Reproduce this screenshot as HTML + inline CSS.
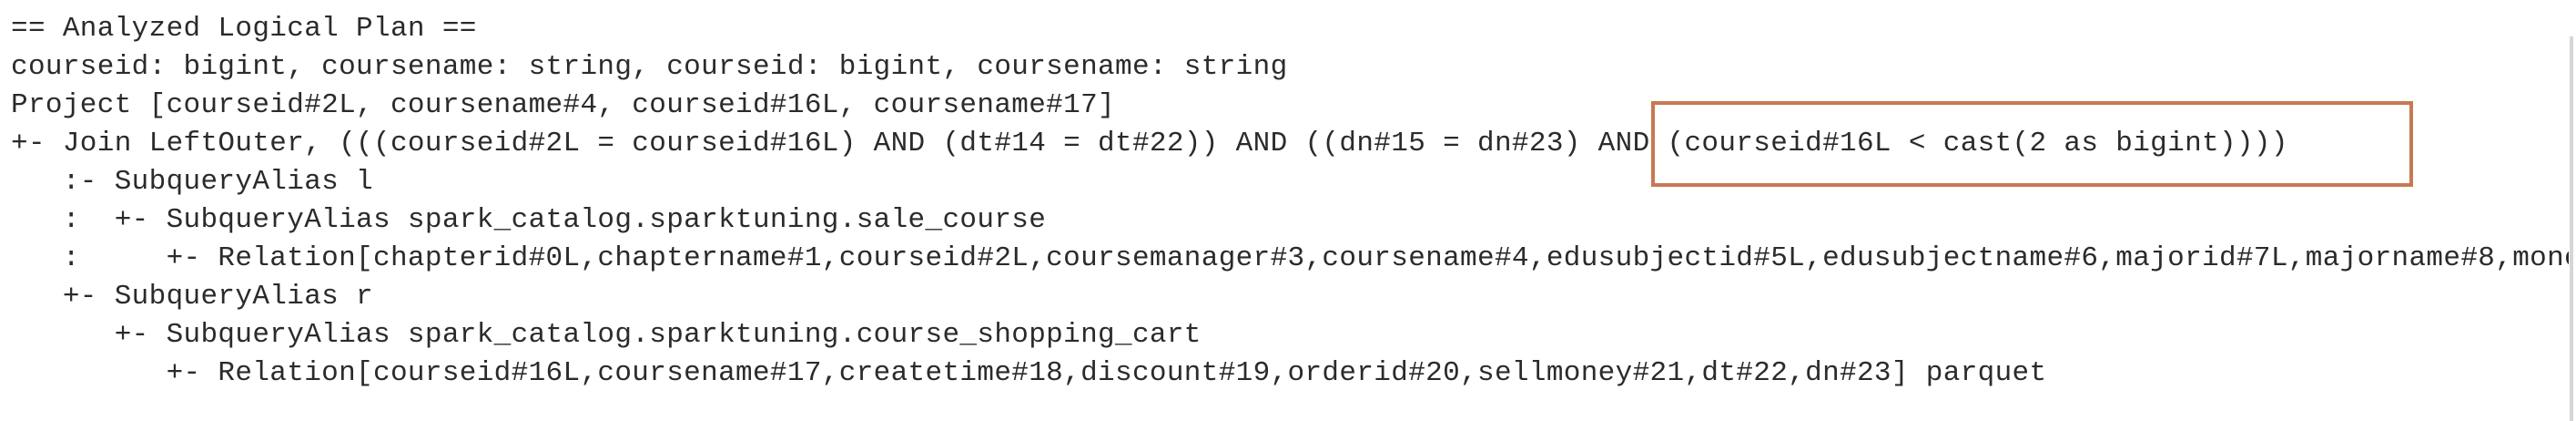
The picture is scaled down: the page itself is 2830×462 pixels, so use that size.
<!DOCTYPE html>
<html><head><meta charset="utf-8"><style>
html,body{margin:0;padding:0;background:#fff;width:2830px;height:462px;overflow:hidden;position:relative}
pre{position:absolute;left:12px;top:11px;margin:0;width:2810px;overflow:hidden;font-family:"Liberation Mono",monospace;font-size:31px;letter-spacing:0.35px;line-height:42px;color:#2b2b2b}
.box{position:absolute;left:1814px;top:111px;width:829px;height:86px;border:4px solid #c67a52}
.vl{position:absolute;left:2823px;top:40px;width:4px;height:422px;background:#d6d6d6}
</style></head><body>
<pre>== Analyzed Logical Plan ==
courseid: bigint, coursename: string, courseid: bigint, coursename: string
Project [courseid#2L, coursename#4, courseid#16L, coursename#17]
+- Join LeftOuter, (((courseid#2L = courseid#16L) AND (dt#14 = dt#22)) AND ((dn#15 = dn#23) AND (courseid#16L &lt; cast(2 as bigint))))
   :- SubqueryAlias l
   :  +- SubqueryAlias spark_catalog.sparktuning.sale_course
   :     +- Relation[chapterid#0L,chaptername#1,courseid#2L,coursemanager#3,coursename#4,edusubjectid#5L,edusubjectname#6,majorid#7L,majorname#8,money#9</pre>
<pre style="top:305px">   +- SubqueryAlias r
      +- SubqueryAlias spark_catalog.sparktuning.course_shopping_cart
         +- Relation[courseid#16L,coursename#17,createtime#18,discount#19,orderid#20,sellmoney#21,dt#22,dn#23] parquet</pre>
<div class="box"></div>
<div class="vl"></div>
</body></html>
